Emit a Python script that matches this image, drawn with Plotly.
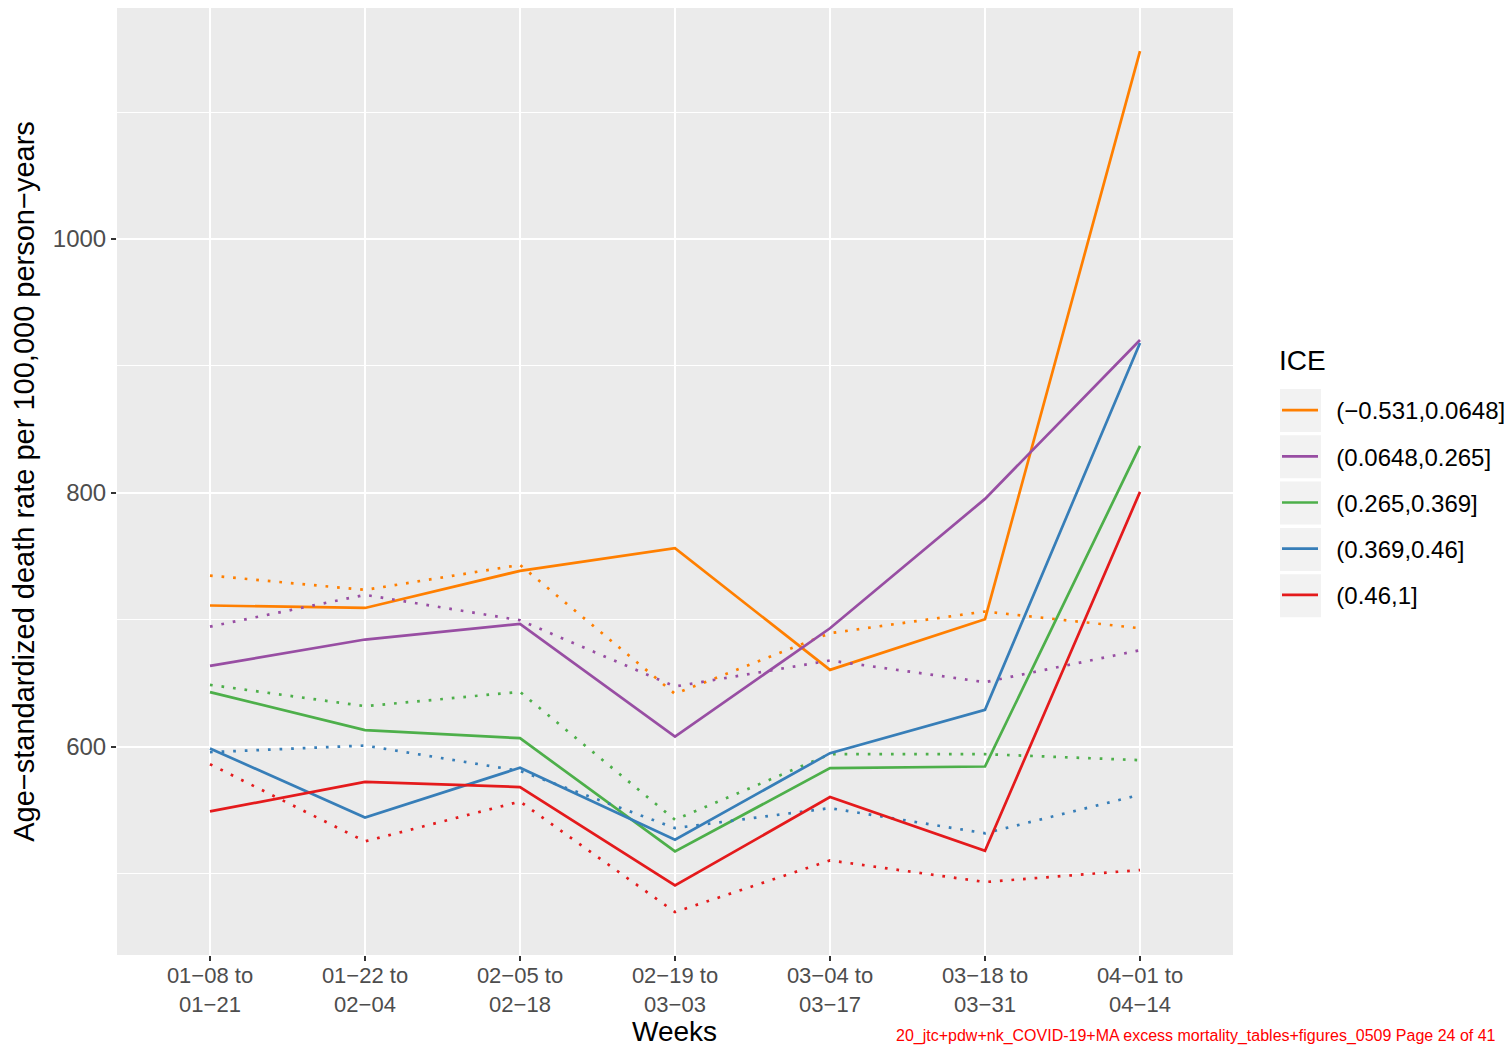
import plotly.graph_objects as go

weeks = ["01−08 to<br>01−21", "01−22 to<br>02−04", "02−05 to<br>02−18", "02−19 to<br>03−03",
         "03−04 to<br>03−17", "03−18 to<br>03−31", "04−01 to<br>04−14"]

ice_groups = ["(−0.531,0.0648]", "(0.0648,0.265]", "(0.265,0.369]", "(0.369,0.46]", "(0.46,1]"]
colors = ["#FF7F00", "#984EA3", "#4DAF4A", "#377EB8", "#E41A1C"]

# solid lines
solid_orange = [711.3, 709.4, 738.6, 756.4, 660.6, 700.5, 1148.0]
solid_purple = [663.8, 684.5, 696.9, 608.1, 693.4, 795.3, 920.5]
solid_green = [643.1, 613.1, 606.8, 517.6, 583.2, 584.5, 837.0]
solid_blue = [598.7, 544.3, 583.5, 526.8, 595.0, 629.1, 918.1]
solid_red = [549.1, 572.4, 568.3, 490.8, 560.4, 518.1, 800.8]

# dotted lines
dot_orange = [734.9, 723.6, 743.3, 641.7, 689.5, 706.6, 693.4]
dot_purple = [694.7, 719.7, 699.7, 647.5, 668.0, 650.9, 676.1]
dot_green = [648.8, 632.0, 643.3, 542.5, 594.2, 594.2, 589.5]
dot_blue = [595.8, 601.0, 581.0, 536.0, 551.7, 531.9, 562.2]
dot_red = [586.3, 525.5, 556.9, 469.8, 510.5, 493.5, 502.9]

solids = [solid_orange, solid_purple, solid_green, solid_blue, solid_red]
dots = [dot_orange, dot_purple, dot_green, dot_blue, dot_red]

y_ticks = [600, 800, 1000]

FONT = "Liberation Sans, Arial, Helvetica, sans-serif"
NBSP = "\u00a0"

fig = go.Figure()
for name, col, s, d in zip(ice_groups, colors, solids, dots):
    fig.add_trace(go.Scatter(x=weeks, y=d, mode="lines", name=NBSP * 2 + name, legendgroup=name,
                             showlegend=False, line=dict(color=col, width=2.7, dash="2.7px,8.9px")))
    fig.add_trace(go.Scatter(x=weeks, y=s, mode="lines", name=NBSP * 2 + name, legendgroup=name,
                             showlegend=True, line=dict(color=col, width=2.7)))

# page has an 8px body margin; figure is sized so the plot area lands on the reference pixels
OFF = 8
L, R, T, B = 117 - OFF, 279, 8 - OFF, 94
W, H = 1512 - OFF, 1049 - OFF
pw, ph = W - L - R, H - T - B

def px2paper_x(px):
    return (px - OFF - L) / pw

def px2paper_y(py):
    return (H - B - (py - OFF)) / ph

# legend key backgrounds
shapes = []
for i in range(len(ice_groups)):
    top = 389 + i * 46.3
    shapes.append(dict(type="rect", xref="paper", yref="paper",
                       x0=px2paper_x(1280), x1=px2paper_x(1321),
                       y0=px2paper_y(top + 43), y1=px2paper_y(top),
                       fillcolor="#F2F2F2", line=dict(width=0), layer="below"))

fig.update_layout(
    width=W, height=H,
    margin=dict(l=L, r=R, t=T, b=B, autoexpand=False),
    paper_bgcolor="white", plot_bgcolor="#EBEBEB",
    font=dict(family=FONT, color="#4D4D4D", size=22),
    showlegend=True,
    legend=dict(
        font=dict(size=24, color="black", family=FONT),
        x=px2paper_x(1277), xanchor="left",
        y=px2paper_y(388), yanchor="top",
        bgcolor="rgba(0,0,0,0)",
        tracegroupgap=12,
        itemwidth=36,
    ),
    shapes=shapes,
    annotations=[
        dict(text="ICE", xref="paper", yref="paper", x=px2paper_x(1277), y=px2paper_y(360),
             xanchor="left", yanchor="middle", showarrow=False,
             font=dict(size=28, color="black", family=FONT)),
        dict(text="Weeks", xref="paper", yref="paper", x=px2paper_x(674), y=px2paper_y(1031),
             xanchor="center", yanchor="middle", showarrow=False,
             font=dict(size=28, color="black", family=FONT)),
        dict(text="20_jtc+pdw+nk_COVID-19+MA excess mortality_tables+figures_0509 Page 24 of 41",
             xref="paper", yref="paper", x=px2paper_x(1498), y=px2paper_y(1036),
             xanchor="right", yanchor="middle", showarrow=False,
             font=dict(size=16, color="#FF0000", family=FONT)),
    ],
)

fig.update_xaxes(
    type="category", range=[-0.6, 6.6],
    showgrid=True, gridcolor="white", gridwidth=2.4,
    zeroline=False, showline=False,
    ticks="outside", ticklen=5, tickwidth=1.5, tickcolor="#333333",
    ticklabelstandoff=-4,
    tickfont=dict(size=22, color="#4D4D4D", family=FONT),
)
fig.update_yaxes(
    range=[436, 1182],
    tickvals=y_ticks,
    showgrid=True, gridcolor="white", gridwidth=2.4,
    minor=dict(tick0=500, dtick=200, showgrid=True, gridcolor="white", gridwidth=1.2, ticks=""),
    zeroline=False, showline=False,
    ticks="outside", ticklen=5, tickwidth=1.5, tickcolor="#333333",
    tickfont=dict(size=24, color="#4D4D4D", family=FONT),
    title=dict(text="Age−standardized death rate per 100,000 person−years",
               font=dict(size=29, color="black", family=FONT), standoff=12),
)

fig.write_html("out.html")
